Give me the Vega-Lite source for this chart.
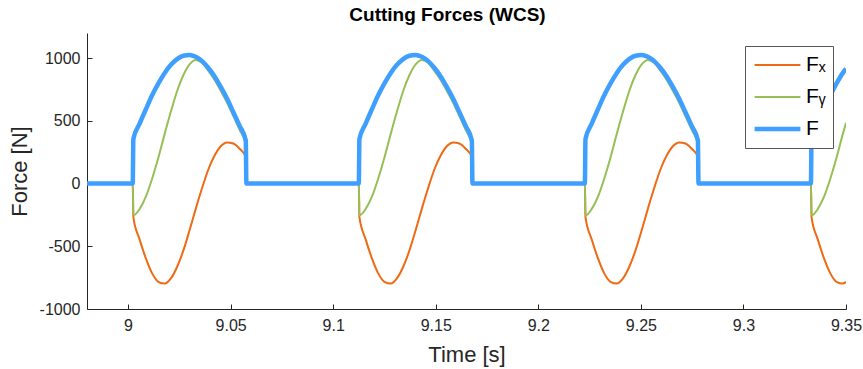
{
  "$schema": "https://vega.github.io/schema/vega-lite/v6.json",
  "width": 759,
  "height": 276,
  "autosize": {"type": "none"},
  "padding": {"left": 87, "top": 33, "right": 17, "bottom": 60},
  "background": "white",
  "title": {"text": "Cutting Forces (WCS)", "frame": "group", "anchor": "middle", "dx": -19, "offset": 8, "fontSize": 19, "fontWeight": "bold", "font": "Liberation Sans", "color": "#000000"},
  "data": {"values": [
    {"t":8.98,"Fx":0,"Fy":0,"F":0},
    {"t":9.0023,"Fx":0,"Fy":0,"F":0},
    {"t":9.0026,"Fx":-267,"Fy":-254,"F":355},
    {"t":9.0056,"Fx":-443,"Fy":-204,"F":476},
    {"t":9.0087,"Fx":-597,"Fy":-105,"F":592},
    {"t":9.0117,"Fx":-714,"Fy":36,"F":701},
    {"t":9.0148,"Fx":-783,"Fy":207,"F":798},
    {"t":9.0178,"Fx":-797,"Fy":392,"F":880},
    {"t":9.0209,"Fx":-756,"Fy":574,"F":946},
    {"t":9.0239,"Fx":-665,"Fy":736,"F":992},
    {"t":9.0270,"Fx":-533,"Fy":865,"F":1019},
    {"t":9.0300,"Fx":-373,"Fy":950,"F":1025},
    {"t":9.0330,"Fx":-202,"Fy":985,"F":1010},
    {"t":9.0361,"Fx":-36,"Fy":962,"F":976},
    {"t":9.0391,"Fx":110,"Fy":900,"F":923},
    {"t":9.0422,"Fx":223,"Fy":826,"F":854},
    {"t":9.0452,"Fx":297,"Fy":740,"F":770},
    {"t":9.0483,"Fx":328,"Fy":644,"F":675},
    {"t":9.0513,"Fx":319,"Fy":539,"F":570},
    {"t":9.0544,"Fx":277,"Fy":428,"F":459},
    {"t":9.0574,"Fx":213,"Fy":313,"F":345},
    {"t":9.0577,"Fx":0,"Fy":0,"F":0},
    {"t":9.1125,"Fx":0,"Fy":0,"F":0},
    {"t":9.1128,"Fx":-267,"Fy":-254,"F":355},
    {"t":9.1158,"Fx":-443,"Fy":-204,"F":476},
    {"t":9.1189,"Fx":-597,"Fy":-105,"F":592},
    {"t":9.1219,"Fx":-714,"Fy":36,"F":701},
    {"t":9.1250,"Fx":-783,"Fy":207,"F":798},
    {"t":9.1280,"Fx":-797,"Fy":392,"F":880},
    {"t":9.1311,"Fx":-756,"Fy":574,"F":946},
    {"t":9.1341,"Fx":-665,"Fy":736,"F":992},
    {"t":9.1372,"Fx":-533,"Fy":865,"F":1019},
    {"t":9.1402,"Fx":-373,"Fy":950,"F":1025},
    {"t":9.1432,"Fx":-202,"Fy":985,"F":1010},
    {"t":9.1463,"Fx":-36,"Fy":962,"F":976},
    {"t":9.1493,"Fx":110,"Fy":900,"F":923},
    {"t":9.1524,"Fx":223,"Fy":826,"F":854},
    {"t":9.1554,"Fx":297,"Fy":740,"F":770},
    {"t":9.1585,"Fx":328,"Fy":644,"F":675},
    {"t":9.1615,"Fx":319,"Fy":539,"F":570},
    {"t":9.1646,"Fx":277,"Fy":428,"F":459},
    {"t":9.1676,"Fx":213,"Fy":313,"F":345},
    {"t":9.1679,"Fx":0,"Fy":0,"F":0},
    {"t":9.2227,"Fx":0,"Fy":0,"F":0},
    {"t":9.2230,"Fx":-267,"Fy":-254,"F":355},
    {"t":9.2260,"Fx":-443,"Fy":-204,"F":476},
    {"t":9.2291,"Fx":-597,"Fy":-105,"F":592},
    {"t":9.2321,"Fx":-714,"Fy":36,"F":701},
    {"t":9.2352,"Fx":-783,"Fy":207,"F":798},
    {"t":9.2382,"Fx":-797,"Fy":392,"F":880},
    {"t":9.2413,"Fx":-756,"Fy":574,"F":946},
    {"t":9.2443,"Fx":-665,"Fy":736,"F":992},
    {"t":9.2474,"Fx":-533,"Fy":865,"F":1019},
    {"t":9.2504,"Fx":-373,"Fy":950,"F":1025},
    {"t":9.2534,"Fx":-202,"Fy":985,"F":1010},
    {"t":9.2565,"Fx":-36,"Fy":962,"F":976},
    {"t":9.2595,"Fx":110,"Fy":900,"F":923},
    {"t":9.2626,"Fx":223,"Fy":826,"F":854},
    {"t":9.2656,"Fx":297,"Fy":740,"F":770},
    {"t":9.2687,"Fx":328,"Fy":644,"F":675},
    {"t":9.2717,"Fx":319,"Fy":539,"F":570},
    {"t":9.2748,"Fx":277,"Fy":428,"F":459},
    {"t":9.2778,"Fx":213,"Fy":313,"F":345},
    {"t":9.2781,"Fx":0,"Fy":0,"F":0},
    {"t":9.3329,"Fx":0,"Fy":0,"F":0},
    {"t":9.3332,"Fx":-267,"Fy":-254,"F":355},
    {"t":9.3362,"Fx":-443,"Fy":-204,"F":476},
    {"t":9.3393,"Fx":-597,"Fy":-105,"F":592},
    {"t":9.3423,"Fx":-714,"Fy":36,"F":701},
    {"t":9.3454,"Fx":-783,"Fy":207,"F":798},
    {"t":9.3484,"Fx":-797,"Fy":392,"F":880},
    {"t":9.35,"Fx":-784,"Fy":484,"F":915}
  ]},
  "transform": [{"fold": ["Fx", "Fy", "F"], "as": ["series", "force"]}],
  "mark": {"type": "line", "interpolate": "monotone", "clip": true},
  "encoding": {
    "x": {
      "field": "t", "type": "quantitative",
      "scale": {"domain": [8.98, 9.35], "nice": false, "zero": false},
      "axis": {"title": "Time [s]", "values": [9, 9.05, 9.1, 9.15, 9.2, 9.25, 9.3, 9.35], "labelExpr": "'' + datum.value", "labelFlush": false, "labelOverlap": false, "labelPadding": 13, "titlePadding": 11}
    },
    "y": {
      "field": "force", "type": "quantitative",
      "scale": {"domain": [-1000, 1200], "nice": false, "zero": false},
      "axis": {"title": "Force [N]", "values": [-1000, -500, 0, 500, 1000], "labelExpr": "'' + datum.value", "labelOverlap": false, "labelPadding": 12, "titlePadding": 8}
    },
    "color": {
      "field": "series", "type": "nominal",
      "scale": {"domain": ["Fx", "Fy", "F"], "range": ["#EE6A14", "#96BF55", "#3F9FFF"]},
      "legend": {
        "title": null, "orient": "top-right", "offset": 13,
        "labelExpr": "datum.label == 'Fx' ? 'Fₓ' : (datum.label == 'Fy' ? 'Fᵧ' : 'F')",
        "symbolType": "stroke", "symbolSize": 2100, "clipHeight": 24,
        "labelFontSize": 21, "labelFont": "Liberation Sans", "labelColor": "#000000", "labelOffset": 3,
        "strokeColor": "#555555", "fillColor": "#ffffff", "padding": 7, "rowPadding": 8
      }
    },
    "strokeWidth": {
      "field": "series", "type": "ordinal",
      "scale": {"type": "ordinal", "domain": ["Fx", "Fy", "F"], "range": [2, 2, 4.5]},
      "legend": {
        "title": null, "orient": "top-right", "offset": 13,
        "labelExpr": "datum.label == 'Fx' ? 'Fₓ' : (datum.label == 'Fy' ? 'Fᵧ' : 'F')",
        "symbolType": "stroke", "symbolSize": 2100, "clipHeight": 24,
        "labelFontSize": 21, "labelFont": "Liberation Sans", "labelColor": "#000000", "labelOffset": 3,
        "strokeColor": "#555555", "fillColor": "#ffffff", "padding": 7, "rowPadding": 8
      }
    }
  },
  "config": {
    "view": {"stroke": null},
    "axis": {
      "grid": false, "tickSize": -5, "domainColor": "#262626", "tickColor": "#262626",
      "labelColor": "#262626", "titleColor": "#262626", "labelFontSize": 16, "titleFontSize": 22,
      "titleFontWeight": "normal", "labelFont": "Liberation Sans", "titleFont": "Liberation Sans",
      "domainWidth": 1, "tickWidth": 1
    }
  }
}
